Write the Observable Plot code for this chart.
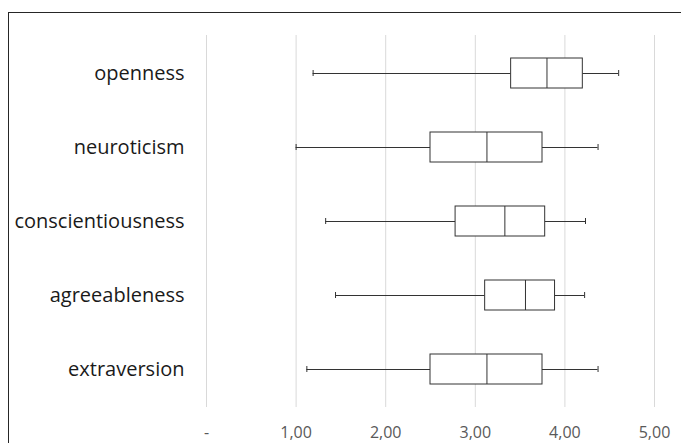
<!DOCTYPE html>
<html>
<head>
<meta charset="utf-8">
<script src="https://cdn.jsdelivr.net/npm/d3@7"></script>
<script src="https://cdn.jsdelivr.net/npm/@observablehq/plot@0.6"></script>
<style>
  html, body { margin: 0; padding: 0; background: #fff; overflow: hidden; }
  #wrap { position: relative; width: 681px; height: 443px; }
  #border { position: absolute; left: 8px; top: 12px; width: 700px; height: 500px; border: 1px solid #262626; box-sizing: border-box; pointer-events: none; }
  #chart { position: absolute; left: 0; top: 0; }
</style>
</head>
<body>
<div id="wrap"><div id="chart"></div><div id="border"></div></div>
<script>
const categories = ["openness", "neuroticism", "conscientiousness", "agreeableness", "extraversion"];
const minVals    = [1.19, 1.00, 1.33, 1.44, 1.12];
const q1Vals     = [3.40, 2.50, 2.78, 3.11, 2.50];
const medianVals = [3.80, 3.13, 3.33, 3.56, 3.13];
const q3Vals     = [4.20, 3.75, 3.78, 3.89, 3.75];
const maxVals    = [4.60, 4.37, 4.23, 4.22, 4.37];
const xTicks     = [0, 1, 2, 3, 4, 5];

const data = categories.map((c, i) => ({
  cat: c, min: minVals[i], q1: q1Vals[i], med: medianVals[i], q3: q3Vals[i], max: maxVals[i]
}));

const lineColor = "#333";
const boxInset = 22;
const capInset = 34;

const chart = Plot.plot({
  width: 681,
  height: 443,
  marginLeft: 206,
  marginRight: 27,
  marginTop: 35,
  marginBottom: 36,
  style: { fontFamily: "'Open Sans', sans-serif", background: "transparent" },
  x: { domain: [0, 5] },
  y: { domain: categories, padding: 0 },
  marks: [
    Plot.gridX(xTicks, { stroke: "#d9d9d9", strokeOpacity: 1 }),
    Plot.axisX(xTicks, {
      tickSize: 0, tickPadding: 19, fontSize: 16, fill: "#595959",
      tickFormat: d => d === 0 ? "-" : d.toFixed(2).replace(".", ","),
      label: null
    }),
    Plot.axisY({ tickSize: 0, tickPadding: 22, fontSize: 20, fill: "#1a1a1a", label: null }),
    Plot.ruleY(data, { y: "cat", x1: "min", x2: "q1", stroke: lineColor }),
    Plot.ruleY(data, { y: "cat", x1: "q3", x2: "max", stroke: lineColor }),
    Plot.tickX(data, { y: "cat", x: "min", stroke: lineColor, insetTop: capInset, insetBottom: capInset }),
    Plot.tickX(data, { y: "cat", x: "max", stroke: lineColor, insetTop: capInset, insetBottom: capInset }),
    Plot.barX(data, { y: "cat", x1: "q1", x2: "q3", fill: "white", stroke: lineColor, insetTop: boxInset, insetBottom: boxInset }),
    Plot.tickX(data, { y: "cat", x: "med", stroke: lineColor, insetTop: boxInset, insetBottom: boxInset })
  ]
});
document.getElementById("chart").appendChild(chart);
</script>
</body>
</html>
